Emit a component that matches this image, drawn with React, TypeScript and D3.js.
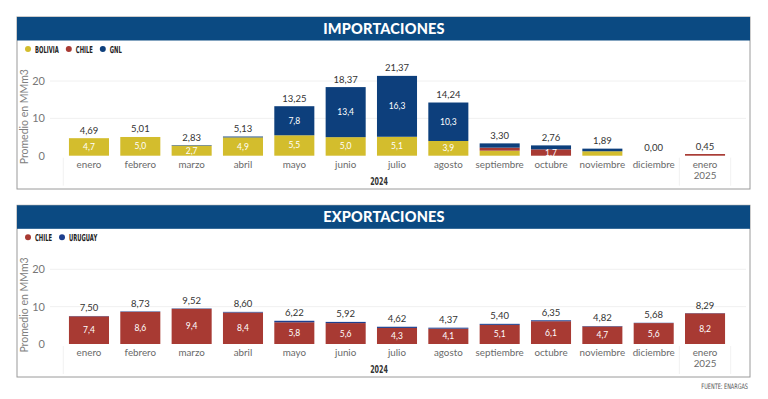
import React from "react";
import * as d3 from "d3";

// Data
const months = ["enero", "febrero", "marzo", "abril", "mayo", "junio", "julio", "agosto", "septiembre", "octubre", "noviembre", "diciembre", "enero "];
const yearLabels = ["2024", "2025"];

const impBolivia = [4.69, 5.01, 2.7, 4.9, 5.47, 4.97, 5.07, 3.94, 1.35, 0, 1.19, 0, 0];
const impChile = [0, 0, 0, 0, 0, 0, 0, 0, 0.8, 1.7, 0, 0, 0.45];
const impGnl = [0, 0, 0.13, 0.23, 7.78, 13.4, 16.3, 10.3, 1.15, 1.06, 0.7, 0, 0];
const impTotal = [4.69, 5.01, 2.83, 5.13, 13.25, 18.37, 21.37, 14.24, 3.3, 2.76, 1.89, 0.0, 0.45];

const expChile = [7.42, 8.61, 9.41, 8.42, 5.82, 5.6, 4.3, 4.1, 5.12, 6.1, 4.7, 5.6, 8.22];
const expUruguay = [0.08, 0.12, 0.11, 0.18, 0.4, 0.32, 0.32, 0.27, 0.28, 0.25, 0.12, 0.08, 0.07];
const expTotal = [7.5, 8.73, 9.52, 8.6, 6.22, 5.92, 4.62, 4.37, 5.4, 6.35, 4.82, 5.68, 8.29];

const yTicks = [0, 10, 20];

const COLORS = {
  header: "#0b4a82",
  bolivia: "#d3bd2d",
  chile: "#a83a33",
  gnl: "#0d3f7c",
  uruguay: "#1d3f8e",
};

const fmt = (v: number, d: number) => v.toFixed(d).replace(".", ",");
const FONT = "Lato, 'Open Sans', sans-serif";
const NARROW = "'DejaVu Sans', sans-serif";

type Series = { name: string; color: string; values: number[] };

// condensed text (squeezed horizontally)
const Narrow = ({ x, y, size, anchor, children, fill = "#222", bold = true, sx = 0.55 }: any) => (
  <text
    transform={`translate(${x}, ${y}) scale(${sx}, 1)`}
    textAnchor={anchor}
    fontFamily={NARROW}
    fontWeight={bold ? 700 : 400}
    fontSize={size}
    fill={fill}
  >
    {children}
  </text>
);

const Panel = ({ top, bottom, title, series, totals }: { top: number; bottom: number; title: string; series: Series[]; totals: number[] }) => {
  // Dimensions
  const left = 17;
  const right = 750;
  const headerH = 23.5;
  const zero = top + 138.7;

  // Scales
  const x = d3.scaleBand<string>().domain(months).range([63.3, 730.7]).paddingInner(0.22).paddingOuter(0.11);
  const y = d3.scaleLinear().domain([0, 20]).range([zero, zero - 74.7]);

  // Stack
  const table = months.map((m, i) => {
    const row: any = { month: m };
    series.forEach((s) => (row[s.name] = s.values[i]));
    return row;
  });
  const stacked = d3.stack().keys(series.map((s) => s.name))(table);

  const step = x.step();
  const groupStart = (x("enero") ?? 0) - step * 0.11;
  const splitX = (x("enero ") ?? 0) - step * 0.11;
  const groupEnd = splitX + step;

  // legend positions
  let lx = 28;
  const legend = series.map((s) => {
    const item = { ...s, x: lx };
    lx += 7 + s.name.length * 3.4 + 10;
    return item;
  });

  return (
    <g>
      <rect x={left} y={top} width={right - left} height={bottom - top} fill="#fff" stroke="#9a9a9a" strokeWidth={1} />
      <rect x={left} y={top} width={right - left} height={headerH} fill={COLORS.header} />
      <text x={384} y={top + 17} textAnchor="middle" fill="#fff" fontFamily={FONT} fontWeight={900} fontSize={14.5} letterSpacing={0.2}>
        {title}
      </text>

      {/* Legend */}
      {legend.map((s) => (
        <g key={s.name}>
          <circle cx={s.x} cy={top + 32} r={3} fill={s.color} />
          <Narrow x={s.x + 7} y={top + 35.5} size={9.5}>
            {s.name.toUpperCase()}
          </Narrow>
        </g>
      ))}

      {/* Grid */}
      {yTicks.filter((t) => t > 0).map((t) => (
        <line key={t} x1={50} x2={746} y1={y(t)} y2={y(t)} stroke="#ececec" strokeWidth={0.8} />
      ))}
      {[groupStart, splitX, groupEnd].map((gx, i) => (
        <line key={i} x1={gx} x2={gx} y1={zero + 2} y2={zero + 30} stroke="#eeeeee" strokeWidth={0.8} />
      ))}

      {/* Y axis */}
      {yTicks.map((t) => (
        <text key={t} x={45} y={y(t) + 4} textAnchor="end" fontFamily={FONT} fontSize={11} fill="#777">
          {t}
        </text>
      ))}
      <text transform={`translate(28, ${zero - 39}) rotate(-90)`} textAnchor="middle" fontFamily={FONT} fontSize={10.5} fill="#808080">
        Promedio en MMm3
      </text>

      {/* Bars */}
      {stacked.map((layer, li) => (
        <g key={layer.key} fill={series[li].color}>
          {layer.map((d, i) => {
            const h = y(d[0]) - y(d[1]);
            if (h <= 0) return null;
            return <rect key={i} x={x(months[i])} y={y(d[1])} width={x.bandwidth()} height={h} />;
          })}
        </g>
      ))}

      {/* Inner labels */}
      {stacked.map((layer, li) =>
        layer.map((d, i) => {
          const v = series[li].values[i];
          if (v < 1.5) return null;
          return (
            <text key={`${li}-${i}`} x={(x(months[i]) ?? 0) + x.bandwidth() / 2} y={(y(d[0]) + y(d[1])) / 2 + 3} textAnchor="middle" fontFamily={FONT} fontSize={8.5} fill="#fff">
              {fmt(v, 1)}
            </text>
          );
        })
      )}

      {/* Totals */}
      {totals.map((t, i) => (
        <text key={i} x={(x(months[i]) ?? 0) + x.bandwidth() / 2} y={y(t) - 4.5} textAnchor="middle" fontFamily={FONT} fontSize={9.5} fill="#333">
          {fmt(t, 2)}
        </text>
      ))}

      {/* X axis */}
      {months.map((m) => (
        <text key={m} x={(x(m) ?? 0) + x.bandwidth() / 2} y={zero + 12} textAnchor="middle" fontFamily={FONT} fontSize={9.8} fill="#6a6a6a">
          {m.trim()}
        </text>
      ))}
      <Narrow x={379} y={zero + 29} size={11} anchor="middle" fill="#333" sx={0.58}>
        {yearLabels[0]}
      </Narrow>
      <text x={(x("enero ") ?? 0) + x.bandwidth() / 2} y={zero + 23} textAnchor="middle" fontFamily={FONT} fontSize={9.8} fill="#6a6a6a">
        {yearLabels[1]}
      </text>
    </g>
  );
};

const App = () => {
  const importSeries: Series[] = [
    { name: "Bolivia", color: COLORS.bolivia, values: impBolivia },
    { name: "Chile", color: COLORS.chile, values: impChile },
    { name: "GNL", color: COLORS.gnl, values: impGnl },
  ];
  const exportSeries: Series[] = [
    { name: "Chile", color: COLORS.chile, values: expChile },
    { name: "Uruguay", color: COLORS.uruguay, values: expUruguay },
  ];

  return (
    <>
      <style>{"body{margin:0}"}</style>
      <svg width={768} height={399} style={{ display: "block", background: "#fff" }}>
        <Panel top={17} bottom={189} title="IMPORTACIONES" series={importSeries} totals={impTotal} />
        <Panel top={205.3} bottom={377} title="EXPORTACIONES" series={exportSeries} totals={expTotal} />
        <Narrow x={748} y={389} size={7.5} anchor="end" fill="#555" sx={0.66} bold={false}>
          FUENTE: ENARGAS
        </Narrow>
      </svg>
    </>
  );
};

export default App;
